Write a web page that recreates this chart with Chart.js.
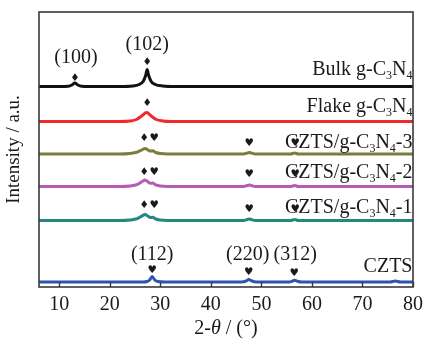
<!DOCTYPE html>
<html>
<head>
<meta charset="utf-8">
<script src="https://cdn.jsdelivr.net/npm/chart.js@4/dist/chart.umd.min.js"></script>
<style>
  html, body { margin: 0; padding: 0; background: #fff; }
  #wrap { width: 429px; height: 339px; }
</style>
</head>
<body>
<div id="wrap"><canvas id="xrd" width="429" height="339"></canvas></div>
<script>
// XRD patterns, stacked with vertical offsets (arbitrary units), 2θ in degrees
const xTicks = [10, 20, 30, 40, 50, 60, 70, 80];

const seriesNames = ['Bulk g-C_3N_4', 'Flake g-C_3N_4', 'CZTS/g-C_3N_4-3', 'CZTS/g-C_3N_4-2', 'CZTS/g-C_3N_4-1', 'CZTS'];
const seriesOffsets = [200.5, 165.5, 133, 100.5, 66.5, 5];

const bulk = [[6,0],[10,0],[11.8,0.3],[12.5,1.5],[13.1,3.5],[13.7,1.5],[14.4,0.3],[16,0],[22,0],[24.5,0.5],[25.8,2],[26.6,5],[27.1,11],[27.4,17],[27.7,11],[28.2,5],[29,2],[30.5,0.5],[33,0],[80,0]];
const flake = [[6,0],[22,0],[24,0.5],[25.3,2],[26.3,5.5],[27.3,9],[28.2,5.5],[29.2,2],[30.5,0.5],[32,0],[80,0]];
const czcn3 = [[6,0],[22,0],[24,0.5],[25.5,2],[26.4,4.2],[27.0,5.5],[27.6,4],[28.0,3],[28.5,3.2],[29.1,1.5],[30,0.4],[31.5,0],[46.5,0],[47.2,1],[47.6,1.5],[48,1],[48.8,0],[55.8,0],[56.6,1],[57.3,0],[80,0]];
const czcn2 = [[6,0],[22,0],[24,0.5],[25.5,2.2],[26.4,5],[27.0,6.5],[27.6,4.5],[28.0,3.2],[28.5,3.4],[29.1,1.6],[30,0.4],[31.5,0],[46.5,0],[47.2,1],[47.6,1.5],[48,1],[48.8,0],[55.8,0],[56.6,1],[57.3,0],[80,0]];
const czcn1 = [[6,0],[22,0],[24,0.5],[25.5,2],[26.4,4.6],[27.0,6],[27.6,4.2],[28.0,3],[28.5,3.2],[29.1,1.5],[30,0.4],[31.5,0],[46.5,0],[47.2,1],[47.6,1.6],[48,1],[48.8,0],[55.8,0],[56.6,1],[57.3,0],[80,0]];
const czts = [[6,0],[26.5,0],[27.4,0.5],[27.9,2],[28.4,5.5],[28.9,2],[29.5,0.5],[31,0],[46,0],[47,1],[47.5,2.5],[48.1,1],[49,0],[55.5,0],[56.2,1],[56.6,1.8],[57.1,0.8],[58,0],[75.5,0],[76.5,1],[77.5,0],[80,0]];
const seriesData = [bulk, flake, czcn3, czcn2, czcn1, czts];
const seriesColors = ['#111111', '#f02a2a', '#7c7c3c', '#b55bb5', '#23897f', '#2c55ad'];

// crystal-plane labels
const planeLabels = ['(100)', '(102)', '(112)', '(220)', '(312)'];
const planeX = [13.3, 27.4, 28.4, 47.3, 56.7];
const planeY = [229, 242, 32, 32, 32];

// phase markers: ♦ g-C3N4, ♥ CZTS
const diamondMarks = [[13.1,209],[27.4,225],[27.4,184],[26.8,149],[26.8,115],[26.8,82]];
const heartMarks = [[28.8,149],[47.6,144],[56.7,144],[28.8,115],[47.6,113],[56.7,113],[28.8,82],[47.6,78],[56.7,78],[28.4,17],[47.5,15],[56.5,14]];

// series name positions (right aligned)
const nameX = 79.9;
const nameY = [212, 175, 139, 109, 74, 15];

const SERIF = '"Liberation Serif", "Times New Roman", serif';
const FS = 20;

function richSegments(str) {
  const out = [];
  let i = 0;
  while (i < str.length) {
    if (str[i] === '_') { out.push({ t: str[i + 1], sub: true }); i += 2; }
    else {
      let j = i;
      while (j < str.length && str[j] !== '_') j++;
      out.push({ t: str.slice(i, j), sub: false });
      i = j;
    }
  }
  return out;
}

function drawRich(ctx, str, x, y, size, align) {
  const segs = richSegments(str);
  const fMain = size + 'px ' + SERIF;
  const fSub = Math.round(size * 0.6) + 'px ' + SERIF;
  let w = 0;
  segs.forEach(s => { ctx.font = s.sub ? fSub : fMain; s.w = ctx.measureText(s.t).width; w += s.w; });
  let cx = align === 'right' ? x - w : (align === 'center' ? x - w / 2 : x);
  ctx.textAlign = 'left';
  ctx.textBaseline = 'alphabetic';
  segs.forEach(s => {
    ctx.font = s.sub ? fSub : fMain;
    ctx.fillText(s.t, cx, y + (s.sub ? size * 0.22 : 0));
    cx += s.w;
  });
}

const decorations = {
  id: 'decorations',
  afterDatasetsDraw(chart) {
    const { ctx, chartArea: a, scales: { x, y } } = chart;
    ctx.save();
    ctx.fillStyle = '#1a1a1a';

    // frame and inward ticks
    ctx.strokeStyle = '#3a3a3a';
    ctx.lineWidth = 1.6;
    ctx.strokeRect(a.left, a.top, a.right - a.left, a.bottom - a.top);
    ctx.lineWidth = 1.4;
    xTicks.forEach(v => {
      const px = Math.round(x.getPixelForValue(v)) + 0.5;
      ctx.beginPath();
      ctx.moveTo(px, a.bottom);
      ctx.lineTo(px, a.bottom - 5);
      ctx.stroke();
    });

    // plane labels
    ctx.font = FS + 'px ' + SERIF;
    ctx.textAlign = 'center';
    ctx.textBaseline = 'middle';
    planeLabels.forEach((t, i) => ctx.fillText(t, x.getPixelForValue(planeX[i]), y.getPixelForValue(planeY[i])));

    // phase markers
    ctx.font = '10.5px "DejaVu Sans"';
    diamondMarks.forEach(p => ctx.fillText('\u2666', x.getPixelForValue(p[0]), y.getPixelForValue(p[1])));
    heartMarks.forEach(p => ctx.fillText('\u2665', x.getPixelForValue(p[0]), y.getPixelForValue(p[1])));

    // series names
    seriesNames.forEach((n, i) => drawRich(ctx, n, x.getPixelForValue(nameX), y.getPixelForValue(nameY[i]), FS, 'right'));

    // axis titles
    ctx.save();
    ctx.translate(14, (a.top + a.bottom) / 2);
    ctx.rotate(-Math.PI / 2);
    ctx.font = '19px ' + SERIF;
    ctx.textAlign = 'center';
    ctx.textBaseline = 'middle';
    ctx.fillText('Intensity / a.u.', 0, 0);
    ctx.restore();

    const parts = [{ t: '2-', f: FS + 'px ' + SERIF }, { t: '\u03B8', f: 'italic ' + FS + 'px ' + SERIF }, { t: ' / (\u00B0)', f: FS + 'px ' + SERIF }];
    let tw = 0;
    parts.forEach(p => { ctx.font = p.f; p.w = ctx.measureText(p.t).width; tw += p.w; });
    let cx = (a.left + a.right) / 2 - tw / 2;
    ctx.textAlign = 'left';
    ctx.textBaseline = 'middle';
    parts.forEach(p => { ctx.font = p.f; ctx.fillText(p.t, cx, 329); cx += p.w; });

    ctx.restore();
  }
};

new Chart(document.getElementById('xrd'), {
  type: 'line',
  data: {
    datasets: seriesData.map((d, i) => ({
      label: seriesNames[i],
      data: d.map(p => ({ x: p[0], y: p[1] + seriesOffsets[i] })),
      borderColor: seriesColors[i],
      borderWidth: 3,
      pointRadius: 0,
      fill: false,
      cubicInterpolationMode: 'monotone'
    }))
  },
  options: {
    responsive: false,
    animation: false,
    devicePixelRatio: 1,
    layout: { padding: { left: 39, right: 12, top: 12, bottom: 16 } },
    plugins: { legend: { display: false }, tooltip: { enabled: false } },
    scales: {
      x: {
        type: 'linear',
        min: 6,
        max: 80,
        afterBuildTicks: s => { s.ticks = xTicks.map(v => ({ value: v })); },
        grid: { display: false, drawTicks: false },
        border: { display: false },
        ticks: { padding: 6, color: '#1a1a1a', font: { family: SERIF, size: FS } }
      },
      y: {
        display: false,
        min: 0,
        max: 275
      }
    }
  },
  plugins: [decorations]
});
</script>
</body>
</html>
